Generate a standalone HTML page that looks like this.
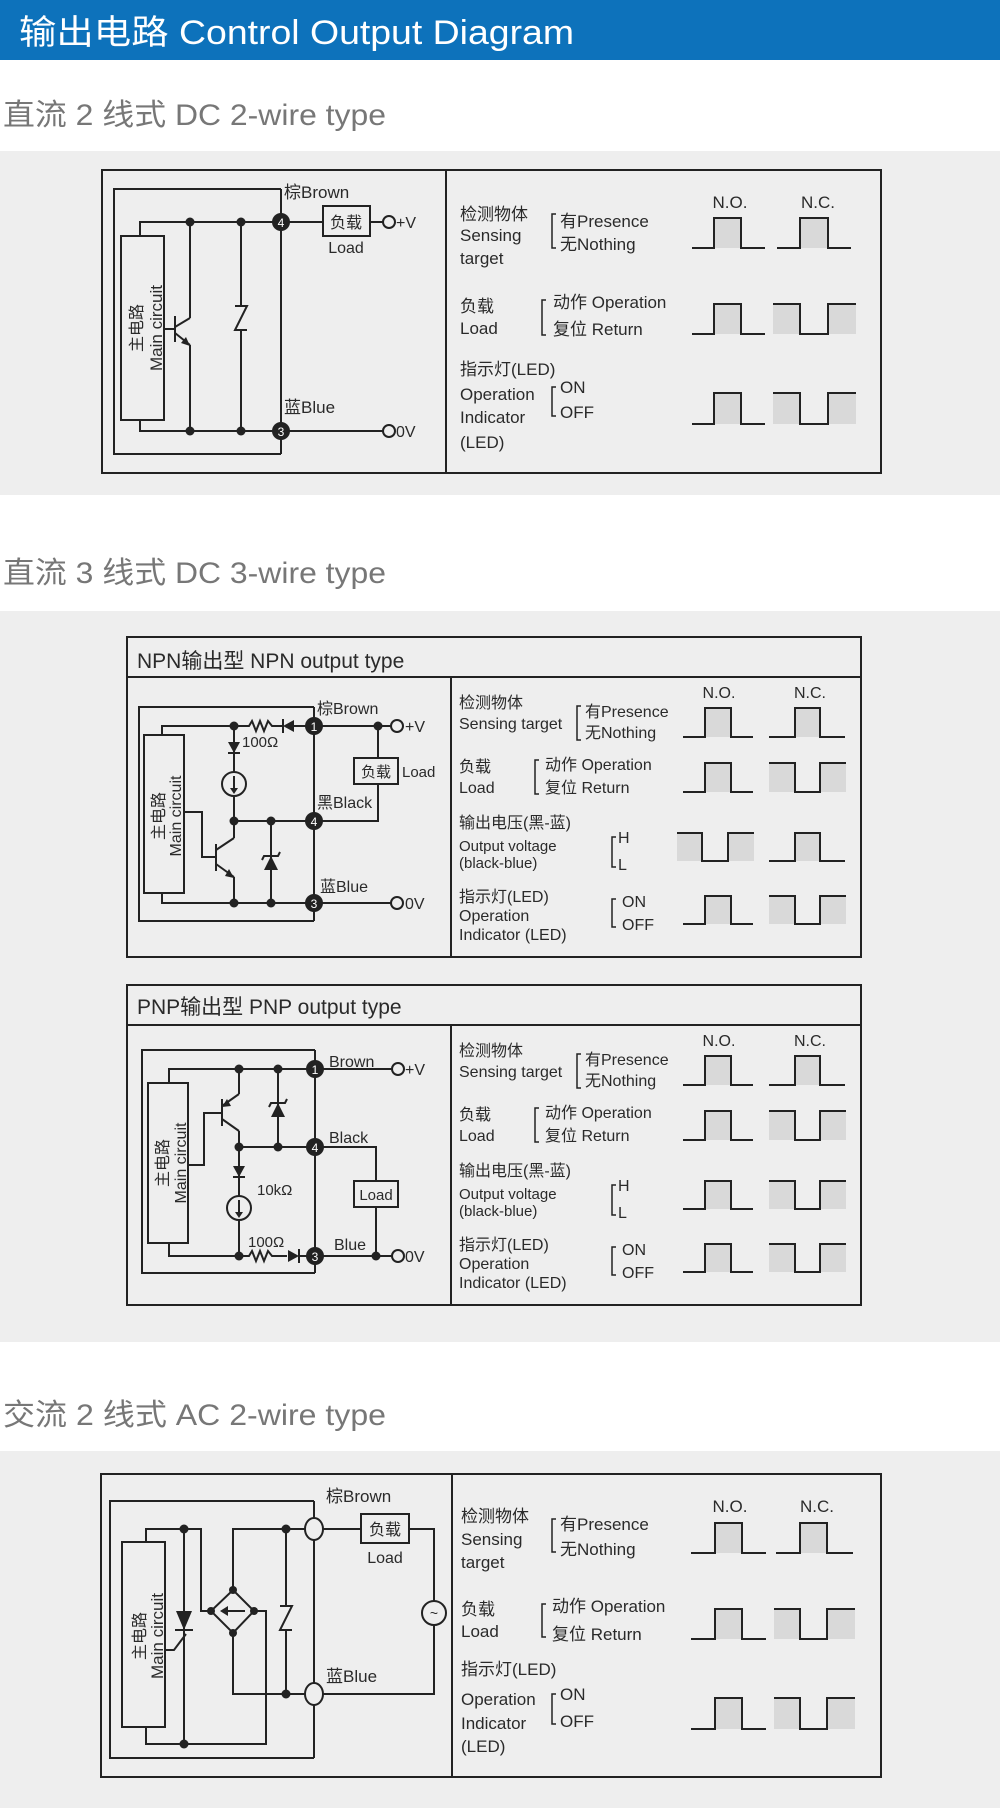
<!DOCTYPE html>
<html><head><meta charset="utf-8"><style>
html,body{margin:0;padding:0;background:#fff}
svg{display:block}
.t{font-family:"Liberation Sans","Noto Sans CJK SC",sans-serif;fill:#2a2a2a}
.w{fill:none;stroke:#222;stroke-width:2}
.g{fill:#d9d9d9}
.d{fill:#222}
.n{font-family:"Liberation Sans",sans-serif;fill:#fff;font-size:12px;text-anchor:middle}
</style></head><body>
<svg width="1000" height="1808" viewBox="0 0 1000 1808" xmlns="http://www.w3.org/2000/svg">
<rect x="0" y="0" width="1000" height="60" fill="#0d72bb"/>
<text x="19" y="44" class="t" style="fill:#fff;font-size:34px" textLength="555" lengthAdjust="spacingAndGlyphs">输出电路 Control Output Diagram</text>

<text x="3" y="125" class="t" style="fill:#777;font-size:30px" textLength="383" lengthAdjust="spacingAndGlyphs">直流 2 线式 DC 2-wire type</text>
<text x="3" y="583" class="t" style="fill:#777;font-size:30px" textLength="383" lengthAdjust="spacingAndGlyphs">直流 3 线式 DC 3-wire type</text>
<text x="3" y="1425" class="t" style="fill:#777;font-size:30px" textLength="383" lengthAdjust="spacingAndGlyphs">交流 2 线式 AC 2-wire type</text>

<rect x="0" y="151" width="1000" height="344" fill="#eeeeee"/>
<rect x="0" y="611" width="1000" height="731" fill="#eeeeee"/>
<rect x="0" y="1451" width="1000" height="357" fill="#eeeeee"/>

<!-- ========== DIAGRAM 1 ========== -->
<rect x="102" y="170" width="779" height="303" class="w"/>
<line x1="446" y1="170" x2="446" y2="473" class="w"/>
<polyline points="281,189 114,189 114,454 281,454" class="w"/>
<line x1="281" y1="189" x2="281" y2="454" class="w"/>
<rect x="121" y="236" width="43" height="184" class="w"/>
<g transform="translate(142,328) rotate(-90)"><text x="0" y="0" class="t" style="font-size:16px" text-anchor="middle">主电路</text><text x="0" y="20" class="t" style="font-size:17px" text-anchor="middle">Main circuit</text></g>
<polyline points="140,236 140,222 323,222" class="w"/>
<rect x="323" y="206" width="47" height="30" class="w"/>
<text x="346" y="228" class="t" style="font-size:16px" text-anchor="middle">负载</text>
<text x="346" y="253" class="t" style="font-size:16px" text-anchor="middle">Load</text>
<line x1="370" y1="222" x2="383" y2="222" class="w"/>
<circle cx="389" cy="222" r="6" class="w"/>
<text x="396" y="228" class="t" style="font-size:16px">+V</text>
<polyline points="140,420 140,431 383,431" class="w"/>
<circle cx="389" cy="431" r="6" class="w"/>
<text x="396" y="437" class="t" style="font-size:16px">0V</text>
<line x1="190" y1="222" x2="190" y2="318" class="w"/>
<line x1="190" y1="318" x2="175" y2="327" class="w"/>
<line x1="175" y1="316" x2="175" y2="342" class="w"/>
<line x1="164" y1="329" x2="175" y2="329" class="w"/>
<line x1="175" y1="333" x2="190" y2="345" class="w"/>
<polygon points="190,346 181,343 186,337" class="d"/>
<line x1="190" y1="345" x2="190" y2="431" class="w"/>
<line x1="241" y1="222" x2="241" y2="306" class="w"/>
<path d="M235 306 H247 L235 330 H247" class="w"/>
<line x1="241" y1="330" x2="241" y2="431" class="w"/>
<circle cx="190" cy="222" r="4.5" class="d"/><circle cx="241" cy="222" r="4.5" class="d"/>
<circle cx="190" cy="431" r="4.5" class="d"/><circle cx="241" cy="431" r="4.5" class="d"/>
<circle cx="281" cy="222" r="9" class="d"/><text x="281" y="227" class="n">4</text>
<circle cx="281" cy="431" r="9" class="d"/><text x="281" y="436" class="n">3</text>
<text x="284" y="198" class="t" style="font-size:17px">棕Brown</text>
<text x="284" y="413" class="t" style="font-size:17px">蓝Blue</text>

<g class="t" style="font-size:17px">
<text x="460" y="220">检测物体</text><text x="460" y="241">Sensing</text><text x="460" y="264">target</text>
<text x="560" y="227">有Presence</text><text x="560" y="250">无Nothing</text>
<text x="730" y="208" text-anchor="middle">N.O.</text><text x="818" y="208" text-anchor="middle">N.C.</text>
<text x="460" y="312">负载</text><text x="460" y="334">Load</text>
<text x="553" y="308">动作 Operation</text><text x="553" y="335">复位 Return</text>
<text x="460" y="375">指示灯(LED)</text><text x="460" y="400">Operation</text><text x="460" y="423">Indicator</text><text x="460" y="448">(LED)</text>
<text x="560" y="393">ON</text><text x="560" y="418">OFF</text>
</g>
<path d="M556 214 H552 V248 H556 M546 300 H542 V335 H546 M556 387 H552 V416 H556" class="w" style="stroke-width:1.5"/>
<rect x="714" y="218" width="27" height="30" class="g"/><polyline points="692,248 714,248 714,218 741,218 741,248 765,248" class="w"/>
<rect x="800" y="218" width="28" height="30" class="g"/><polyline points="777,248 800,248 800,218 828,218 828,248 851,248" class="w"/>
<rect x="714" y="304" width="27" height="30" class="g"/><polyline points="692,334 714,334 714,304 741,304 741,334 765,334" class="w"/>
<rect x="773" y="304" width="27" height="30" class="g"/><rect x="828" y="304" width="28" height="30" class="g"/><polyline points="773,304 800,304 800,334 828,334 828,304 856,304" class="w"/>
<rect x="714" y="393" width="27" height="31" class="g"/><polyline points="692,424 714,424 714,393 741,393 741,424 765,424" class="w"/>
<rect x="773" y="393" width="27" height="31" class="g"/><rect x="828" y="393" width="28" height="31" class="g"/><polyline points="773,393 800,393 800,424 828,424 828,393 856,393" class="w"/>

<!-- ========== NPN ========== -->
<rect x="127" y="637" width="734" height="320" class="w"/>
<line x1="127" y1="677" x2="861" y2="677" class="w"/>
<line x1="451" y1="677" x2="451" y2="957" class="w"/>
<text x="137" y="668" class="t" style="font-size:21px">NPN输出型 NPN output type</text>
<polyline points="314,707 139,707 139,921 314,921" class="w"/>
<line x1="314" y1="707" x2="314" y2="921" class="w"/>
<rect x="144" y="735" width="40" height="158" class="w"/>
<g transform="translate(164,816) rotate(-90)"><text x="0" y="0" class="t" style="font-size:16px" text-anchor="middle">主电路</text><text x="0" y="17" class="t" style="font-size:16px" text-anchor="middle">Main circuit</text></g>
<polyline points="162,735 162,726 249,726 252,721 256,731 260,721 264,731 268,721 272,726 283,726" class="w"/>
<polygon points="283,726 294,720 294,732" class="d"/><line x1="283" y1="719" x2="283" y2="733" class="w"/>
<line x1="294" y1="726" x2="391" y2="726" class="w"/>
<circle cx="397" cy="726" r="6" class="w"/>
<text x="405" y="732" class="t" style="font-size:16px">+V</text>
<text x="242" y="747" class="t" style="font-size:15px">100Ω</text>
<circle cx="234" cy="726" r="4.5" class="d"/><circle cx="378" cy="726" r="4.5" class="d"/>
<polyline points="378,726 378,758" class="w"/>
<rect x="354" y="758" width="44" height="26" class="w"/>
<text x="376" y="777" class="t" style="font-size:15px" text-anchor="middle">负载</text>
<text x="402" y="777" class="t" style="font-size:15px">Load</text>
<polyline points="378,784 378,821 314,821" class="w"/>
<line x1="234" y1="726" x2="234" y2="772" class="w"/>
<polygon points="228,742 240,742 234,753" class="d"/><line x1="228" y1="753" x2="240" y2="753" class="w"/>
<circle cx="234" cy="784" r="12" class="w"/>
<line x1="234" y1="776" x2="234" y2="792" class="w"/><polygon points="230,788 238,788 234,794" class="d"/>
<line x1="234" y1="796" x2="234" y2="838" class="w"/>
<line x1="234" y1="821" x2="314" y2="821" class="w"/>
<line x1="234" y1="838" x2="216" y2="850" class="w"/>
<line x1="216" y1="844" x2="216" y2="871" class="w"/>
<polyline points="184,812 202,812 202,857 216,857" class="w"/>
<line x1="216" y1="864" x2="234" y2="877" class="w"/>
<polygon points="234,878 225,876 229,869" class="d"/>
<line x1="234" y1="877" x2="234" y2="903" class="w"/>
<line x1="271" y1="821" x2="271" y2="903" class="w"/>
<polygon points="271,856 264,870 278,870" class="d"/><path d="M262 860 L264 856 H278 L280 852" class="w"/>
<polyline points="162,893 162,903 391,903" class="w"/>
<circle cx="397" cy="903" r="6" class="w"/>
<text x="405" y="909" class="t" style="font-size:16px">0V</text>
<circle cx="234" cy="821" r="4.5" class="d"/><circle cx="271" cy="821" r="4.5" class="d"/>
<circle cx="234" cy="903" r="4.5" class="d"/><circle cx="271" cy="903" r="4.5" class="d"/>
<circle cx="314" cy="726" r="9" class="d"/><text x="314" y="731" class="n">1</text>
<circle cx="314" cy="821" r="9" class="d"/><text x="314" y="826" class="n">4</text>
<circle cx="314" cy="903" r="9" class="d"/><text x="314" y="908" class="n">3</text>
<text x="317" y="714" class="t" style="font-size:16px">棕Brown</text>
<text x="317" y="808" class="t" style="font-size:16px">黑Black</text>
<text x="320" y="892" class="t" style="font-size:16px">蓝Blue</text>

<g id="rt">
<g class="t" style="font-size:16px">
<text x="459" y="708">检测物体</text><text x="459" y="729">Sensing target</text>
<text x="585" y="717">有Presence</text><text x="585" y="738">无Nothing</text>
<text x="719" y="698" text-anchor="middle">N.O.</text><text x="810" y="698" text-anchor="middle">N.C.</text>
<text x="459" y="772">负载</text><text x="459" y="793">Load</text>
<text x="545" y="770">动作 Operation</text><text x="545" y="793">复位 Return</text>
<text x="459" y="828">输出电压(黑-蓝)</text><text x="459" y="851" style="font-size:15px">Output voltage</text><text x="459" y="868" style="font-size:15px">(black-blue)</text>
<text x="618" y="843">H</text><text x="618" y="870">L</text>
<text x="459" y="902">指示灯(LED)</text><text x="459" y="921">Operation</text><text x="459" y="940">Indicator (LED)</text>
<text x="622" y="907">ON</text><text x="622" y="930">OFF</text>
</g>
<path d="M581 706 H577 V740 H581 M539 760 H535 V794 H539 M616 837 H612 V867 H616 M616 899 H612 V927 H616" class="w" style="stroke-width:1.5"/>
<rect x="705" y="708" width="26" height="29" class="g"/><polyline points="683,737 705,737 705,708 731,708 731,737 753,737" class="w"/>
<rect x="795" y="708" width="25" height="29" class="g"/><polyline points="769,737 795,737 795,708 820,708 820,737 845,737" class="w"/>
<rect x="705" y="763" width="26" height="29" class="g"/><polyline points="683,792 705,792 705,763 731,763 731,792 753,792" class="w"/>
<rect x="769" y="763" width="26" height="29" class="g"/><rect x="820" y="763" width="26" height="29" class="g"/><polyline points="769,763 795,763 795,792 820,792 820,763 846,763" class="w"/>
<rect x="705" y="896" width="26" height="28" class="g"/><polyline points="683,924 705,924 705,896 731,896 731,924 753,924" class="w"/>
<rect x="769" y="896" width="26" height="28" class="g"/><rect x="820" y="896" width="26" height="28" class="g"/><polyline points="769,896 795,896 795,924 820,924 820,896 846,896" class="w"/>
</g>
<rect x="677" y="833" width="25" height="28" class="g"/><rect x="728" y="833" width="26" height="28" class="g"/><polyline points="677,833 702,833 702,861 728,861 728,833 754,833" class="w"/>
<rect x="795" y="833" width="25" height="28" class="g"/><polyline points="769,861 795,861 795,833 820,833 820,861 845,861" class="w"/>

<!-- ========== PNP ========== -->
<rect x="127" y="985" width="734" height="320" class="w"/>
<line x1="127" y1="1025" x2="861" y2="1025" class="w"/>
<line x1="451" y1="1025" x2="451" y2="1305" class="w"/>
<text x="137" y="1014" class="t" style="font-size:21px">PNP输出型 PNP output type</text>
<polyline points="315,1050 142,1050 142,1273 315,1273" class="w"/>
<line x1="315" y1="1050" x2="315" y2="1273" class="w"/>
<rect x="148" y="1083" width="40" height="160" class="w"/>
<g transform="translate(168,1163) rotate(-90)"><text x="0" y="0" class="t" style="font-size:16px" text-anchor="middle">主电路</text><text x="0" y="18" class="t" style="font-size:16px" text-anchor="middle">Main circuit</text></g>
<polyline points="169,1083 169,1069 392,1069" class="w"/>
<circle cx="398" cy="1069" r="6" class="w"/>
<text x="405" y="1075" class="t" style="font-size:16px">+V</text>
<line x1="239" y1="1069" x2="239" y2="1094" class="w"/>
<line x1="239" y1="1094" x2="222" y2="1106" class="w"/>
<polygon points="222,1107 227,1099 231,1106" class="d"/>
<line x1="222" y1="1099" x2="222" y2="1126" class="w"/>
<polyline points="188,1165 204,1165 204,1113 222,1113" class="w"/>
<line x1="222" y1="1119" x2="239" y2="1131" class="w"/>
<line x1="239" y1="1131" x2="239" y2="1147" class="w"/>
<line x1="278" y1="1069" x2="278" y2="1147" class="w"/>
<polygon points="278,1103 271,1117 285,1117" class="d"/><path d="M269 1107 L271 1103 H285 L287 1099" class="w"/>
<polyline points="239,1147 376,1147 376,1181" class="w"/>
<rect x="354" y="1181" width="44" height="26" class="w"/>
<text x="376" y="1200" class="t" style="font-size:15px" text-anchor="middle">Load</text>
<line x1="376" y1="1207" x2="376" y2="1256" class="w"/>
<line x1="239" y1="1147" x2="239" y2="1196" class="w"/>
<polygon points="233,1166 245,1166 239,1177" class="d"/><line x1="233" y1="1177" x2="245" y2="1177" class="w"/>
<circle cx="239" cy="1208" r="12" class="w"/>
<line x1="239" y1="1200" x2="239" y2="1216" class="w"/><polygon points="235,1212 243,1212 239,1218" class="d"/>
<line x1="239" y1="1220" x2="239" y2="1256" class="w"/>
<text x="257" y="1195" class="t" style="font-size:15px">10kΩ</text>
<polyline points="169,1243 169,1256 249,1256 252,1251 256,1261 260,1251 264,1261 268,1251 272,1256 287,1256" class="w"/>
<polygon points="299,1256 288,1250 288,1262" class="d"/><line x1="299" y1="1249" x2="299" y2="1263" class="w"/>
<line x1="299" y1="1256" x2="392" y2="1256" class="w"/>
<circle cx="398" cy="1256" r="6" class="w"/>
<text x="405" y="1262" class="t" style="font-size:16px">0V</text>
<text x="248" y="1247" class="t" style="font-size:15px">100Ω</text>
<circle cx="239" cy="1069" r="4.5" class="d"/><circle cx="278" cy="1069" r="4.5" class="d"/>
<circle cx="239" cy="1147" r="4.5" class="d"/><circle cx="278" cy="1147" r="4.5" class="d"/>
<circle cx="239" cy="1256" r="4.5" class="d"/><circle cx="376" cy="1256" r="4.5" class="d"/>
<circle cx="315" cy="1069" r="9" class="d"/><text x="315" y="1074" class="n">1</text>
<circle cx="315" cy="1147" r="9" class="d"/><text x="315" y="1152" class="n">4</text>
<circle cx="315" cy="1256" r="9" class="d"/><text x="315" y="1261" class="n">3</text>
<text x="329" y="1067" class="t" style="font-size:16px">Brown</text>
<text x="329" y="1143" class="t" style="font-size:16px">Black</text>
<text x="334" y="1250" class="t" style="font-size:16px">Blue</text>
<use href="#rt" transform="translate(0,348)"/>
<rect x="705" y="1181" width="26" height="28" class="g"/><polyline points="683,1209 705,1209 705,1181 731,1181 731,1209 753,1209" class="w"/>
<rect x="769" y="1181" width="26" height="28" class="g"/><rect x="820" y="1181" width="26" height="28" class="g"/><polyline points="769,1181 795,1181 795,1209 820,1209 820,1181 846,1181" class="w"/>

<!-- ========== AC ========== -->
<rect x="101" y="1474" width="780" height="303" class="w"/>
<line x1="452" y1="1474" x2="452" y2="1777" class="w"/>
<polyline points="314,1501 110,1501 110,1758 314,1758" class="w"/>
<line x1="314" y1="1501" x2="314" y2="1758" class="w"/>
<rect x="122" y="1542" width="43" height="185" class="w"/>
<g transform="translate(145,1636) rotate(-90)"><text x="0" y="0" class="t" style="font-size:16px" text-anchor="middle">主电路</text><text x="0" y="18" class="t" style="font-size:17px" text-anchor="middle">Main circuit</text></g>
<polyline points="146,1542 146,1529 201,1529 201,1611 211,1611" class="w"/>
<line x1="184" y1="1529" x2="184" y2="1744" class="w"/>
<polygon points="176,1611 192,1611 184,1630" class="d"/><line x1="175" y1="1630" x2="193" y2="1630" class="w"/>
<polyline points="165,1650 174,1650 186,1634" class="w"/>
<polyline points="146,1727 146,1744 266,1744 266,1611 254,1611" class="w"/>
<polygon points="233,1590 254,1611 233,1633 211,1611" class="w"/>
<line x1="245" y1="1611" x2="226" y2="1611" class="w"/><polygon points="220,1611 228,1606 228,1616" class="d"/>
<polyline points="233,1590 233,1529 314,1529" class="w"/>
<polyline points="233,1633 233,1694 314,1694" class="w"/>
<line x1="286" y1="1529" x2="286" y2="1606" class="w"/>
<path d="M280 1606 H292 L280 1630 H292" class="w"/>
<line x1="286" y1="1630" x2="286" y2="1694" class="w"/>
<circle cx="184" cy="1529" r="4.5" class="d"/><circle cx="184" cy="1744" r="4.5" class="d"/>
<circle cx="286" cy="1529" r="4.5" class="d"/><circle cx="286" cy="1694" r="4.5" class="d"/>
<circle cx="233" cy="1590" r="4" class="d"/><circle cx="233" cy="1633" r="4" class="d"/>
<circle cx="211" cy="1611" r="4" class="d"/><circle cx="254" cy="1611" r="4" class="d"/>
<line x1="323" y1="1529" x2="361" y2="1529" class="w"/>
<rect x="361" y="1514" width="48" height="29" class="w"/>
<text x="385" y="1535" class="t" style="font-size:16px" text-anchor="middle">负载</text>
<text x="385" y="1563" class="t" style="font-size:16px" text-anchor="middle">Load</text>
<polyline points="409,1529 434,1529 434,1601" class="w"/>
<circle cx="434" cy="1613" r="12" class="w"/>
<text x="434" y="1618" class="t" style="font-size:14px" text-anchor="middle">~</text>
<polyline points="434,1625 434,1694 323,1694" class="w"/>
<ellipse cx="314" cy="1529" rx="9" ry="11" fill="#eee" class="w" style="fill:#eeeeee"/>
<ellipse cx="314" cy="1694" rx="9" ry="11" class="w" style="fill:#eeeeee"/>
<text x="326" y="1502" class="t" style="font-size:17px">棕Brown</text>
<text x="326" y="1682" class="t" style="font-size:17px">蓝Blue</text>

<g class="t" style="font-size:17px">
<text x="461" y="1522">检测物体</text><text x="461" y="1545">Sensing</text><text x="461" y="1568">target</text>
<text x="560" y="1530">有Presence</text><text x="560" y="1555">无Nothing</text>
<text x="730" y="1512" text-anchor="middle">N.O.</text><text x="817" y="1512" text-anchor="middle">N.C.</text>
<text x="461" y="1615">负载</text><text x="461" y="1637">Load</text>
<text x="552" y="1612">动作 Operation</text><text x="552" y="1640">复位 Return</text>
<text x="461" y="1675">指示灯(LED)</text><text x="461" y="1705">Operation</text><text x="461" y="1729">Indicator</text><text x="461" y="1752">(LED)</text>
<text x="560" y="1700">ON</text><text x="560" y="1727">OFF</text>
</g>
<path d="M556 1519 H552 V1552 H556 M546 1604 H542 V1637 H546 M556 1694 H552 V1724 H556" class="w" style="stroke-width:1.5"/>
<rect x="715" y="1523" width="27" height="30" class="g"/><polyline points="691,1553 715,1553 715,1523 742,1523 742,1553 766,1553" class="w"/>
<rect x="800" y="1523" width="27" height="30" class="g"/><polyline points="776,1553 800,1553 800,1523 827,1523 827,1553 853,1553" class="w"/>
<rect x="715" y="1609" width="27" height="30" class="g"/><polyline points="691,1639 715,1639 715,1609 742,1609 742,1639 766,1639" class="w"/>
<rect x="774" y="1609" width="26" height="30" class="g"/><rect x="827" y="1609" width="28" height="30" class="g"/><polyline points="774,1609 800,1609 800,1639 827,1639 827,1609 855,1609" class="w"/>
<rect x="715" y="1698" width="27" height="31" class="g"/><polyline points="691,1729 715,1729 715,1698 742,1698 742,1729 766,1729" class="w"/>
<rect x="774" y="1698" width="26" height="31" class="g"/><rect x="827" y="1698" width="28" height="31" class="g"/><polyline points="774,1698 800,1698 800,1729 827,1729 827,1698 855,1698" class="w"/>
</svg>
</body></html>
